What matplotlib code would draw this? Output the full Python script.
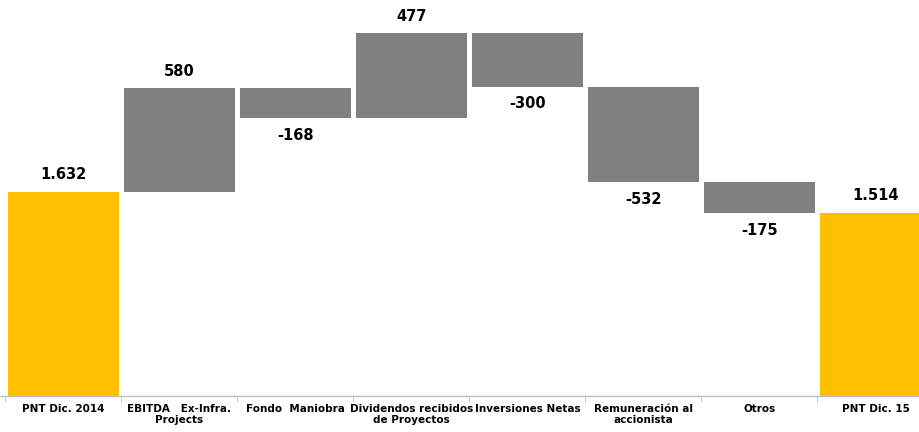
import numpy as np
import matplotlib
matplotlib.use("Agg")
import matplotlib.pyplot as plt

#################### DATA ####################
categories = [
    "PNT Dic. 2014",
    "EBITDA   Ex-Infra.\nProjects",
    "Fondo  Maniobra",
    "Dividendos recibidos\nde Proyectos",
    "Inversiones Netas",
    "Remuneración al\naccionista",
    "Otros",
    "PNT Dic. 15",
]
start_value = 1632
changes = [580, -168, 477, -300, -532, -175]
end_value = 1514

yellow = "#FFC000"
grey = "#808080"
################## END DATA ##################


def fmt(v):
    # spanish thousands separator
    return f"{v:,}".replace(",", ".")


fig = plt.figure(figsize=(9.2, 4.32), dpi=100)
ax = fig.add_axes([0.0, 36 / 432, 1.0, 396 / 432])

ymin = 492
width = 0.96
n = len(categories)
x = np.arange(n)
lab_kw = dict(ha="center", fontsize=10.5, fontweight="bold")

# totals
for xi, v in [(0, start_value), (n - 1, end_value)]:
    ax.bar(xi, v - ymin, bottom=ymin, width=width, color=yellow, zorder=2)
    ax.text(xi, v + 55, fmt(v), va="bottom", **lab_kw)

# steps
level = start_value
for i, d in enumerate(changes, start=1):
    lo, hi = min(level, level + d), max(level, level + d)
    ax.bar(x[i], hi - lo, bottom=lo, width=width, color=grey, zorder=2)
    if d > 0:
        ax.text(x[i], hi + 50, fmt(d), va="bottom", **lab_kw)
    else:
        ax.text(x[i], lo - 55, fmt(d), va="top", **lab_kw)
    level += d

ax.set_xticks(x)
ax.set_xticklabels(categories, fontsize=7.5, fontweight="bold", linespacing=1.1)
ax.set_xticks(np.arange(n + 1) - 0.5, minor=True)
ax.tick_params(axis="x", which="major", length=0, pad=6)
ax.tick_params(axis="x", which="minor", length=4, color="#BFBFBF", direction="out")
ax.set_yticks([])

# limits after ticks so set_xticks doesn't widen them
ax.set_ylim(ymin, 2705)
ax.set_xlim(-0.547, -0.547 + 920 / 116)

for s in ["top", "right", "left"]:
    ax.spines[s].set_visible(False)
ax.spines["bottom"].set_color("#BFBFBF")
ax.spines["bottom"].set_linewidth(1.0)

fig.savefig("out.png", dpi=100)
